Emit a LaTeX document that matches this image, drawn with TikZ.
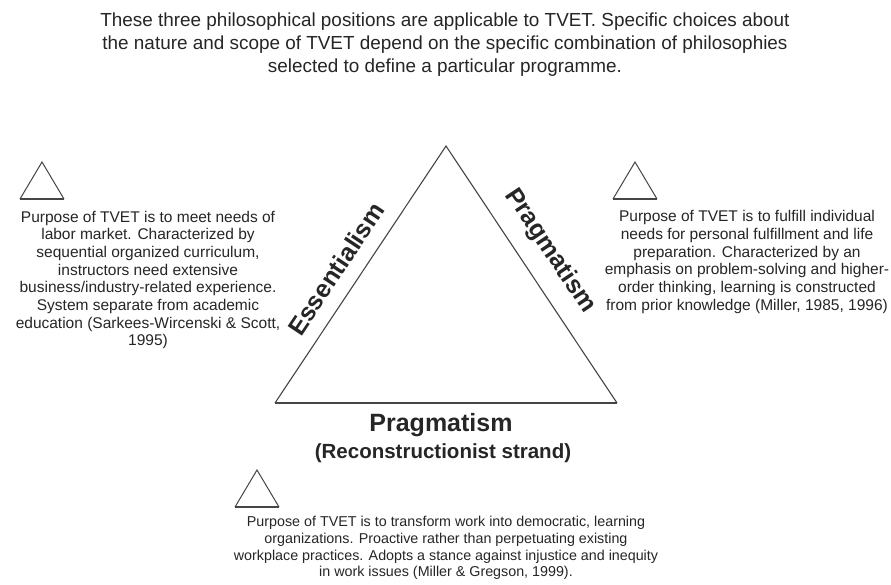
\documentclass[tikz,border=0pt]{standalone}
\usepackage{fontspec}
\setmainfont{Liberation Sans}
\definecolor{ink}{HTML}{262626}
\definecolor{edgegray}{HTML}{454545}
\begin{document}
\begin{tikzpicture}[x=1pt,y=-1pt,
  every node/.style={text=ink,inner sep=0pt},
  heading/.style={align=center,font=\fontsize{18.9}{23}\selectfont},
  body/.style={align=center,font=\fontsize{15.5}{17.7}\selectfont},
  bodysmall/.style={align=center,font=\fontsize{14.3}{16.6}\selectfont},
  sidelabel/.style={font=\fontsize{25}{30}\selectfont\bfseries},
  baselabel/.style={font=\fontsize{25}{30}\selectfont\bfseries},
  strandlabel/.style={font=\fontsize{20.5}{24}\selectfont\bfseries},
  minitri/.pic={
    \draw[edgegray,line width=1pt,line join=miter] (-22,0) -- (0,-37) -- (22,0);
    \draw[edgegray,line width=2.2pt] (-22,0) -- (22,0);
  }
]
% canvas
\fill[white] (0,0) rectangle (891,585);
\useasboundingbox (0,0) rectangle (891,585);

% heading
\node[heading] (head) at (445,45) {These three philosophical positions are applicable to TVET. Specific choices about\\
the nature and scope of TVET depend on the specific combination of philosophies\\
selected to define a particular programme.};

% main triangle
\coordinate (apex) at (446,146);
\coordinate (bl) at (275,403);
\coordinate (br) at (617,403);
\draw[edgegray,line width=1.1pt,line join=miter] (bl) -- (apex) -- (br);
\draw[edgegray,line width=1.6pt] (bl) -- (br);

% edge labels
\node[sidelabel,rotate=56.3] (ess) at (336,269) {Essentialism};
\node[sidelabel,rotate=-56.3] (prag) at (550,251) {Pragmatism};
\node[baselabel] (pragbase) at (441,425) {Pragmatism};
\node[strandlabel] (strand) at (443,453) {(Reconstructionist strand)};

% small triangle markers
\pic at (42,199) {minitri};
\pic at (635,199) {minitri};
\pic at (257,507) {minitri};

% descriptions
\node[body] (essdesc) at (148,280) {Purpose of TVET is to meet needs of\\
labor market. Characterized by\\
sequential organized curriculum,\\
instructors need extensive\\
business/industry-related experience.\\
System separate from academic\\
education (Sarkees-Wircenski \& Scott,\\
1995)};

\node[body] (pragdesc) at (747,262) {Purpose of TVET is to fulfill individual\\
needs for personal fulfillment and life\\
preparation. Characterized by an\\
emphasis on problem-solving and higher-\\
order thinking, learning is constructed\\
from prior knowledge (Miller, 1985, 1996)};

\node[bodysmall] (recdesc) at (446,548) {Purpose of TVET is to transform work into democratic, learning\\
organizations. Proactive rather than perpetuating existing\\
workplace practices. Adopts a stance against injustice and inequity\\
in work issues (Miller \& Gregson, 1999).};
\end{tikzpicture}
\end{document}
